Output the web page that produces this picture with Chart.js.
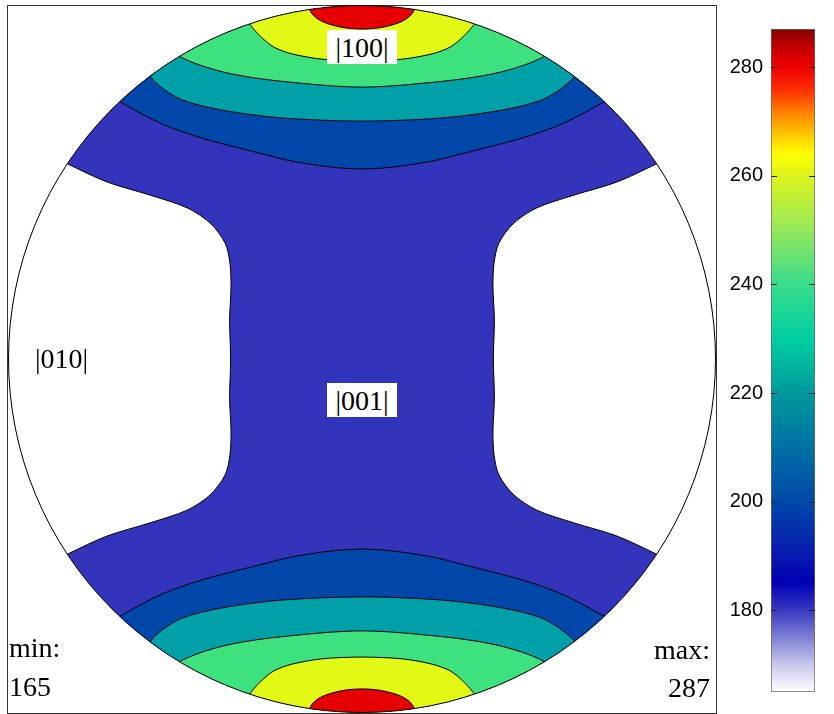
<!DOCTYPE html>
<html>
<head>
<meta charset="utf-8">
<script src="https://cdn.jsdelivr.net/npm/chart.js@4.4.1/dist/chart.umd.min.js"></script>
<style>
  html, body { margin: 0; padding: 0; background: #fff; }
  body { width: 834px; height: 714px; position: relative; overflow: hidden; }
  #frame { position: absolute; left: 7px; top: 5px; width: 708px; height: 707px; border: 1px solid #333; }
  #pole { position: absolute; left: 8px; top: 5px; }
  #bar { position: absolute; left: 720px; top: 29px; }
  .lbl { position: absolute; font-family: "Liberation Serif", "Times New Roman", serif; font-size: 28px; line-height: 31px; color: #000; white-space: nowrap; }
  .boxed { background: #fff; width: 70px; height: 34px; text-align: center; line-height: 35px; }
</style>
</head>
<body>
<div id="frame"></div>
<canvas id="pole" width="708" height="708"></canvas>
<canvas id="bar" width="96" height="663"></canvas>
<div class="lbl boxed" style="left:327px; top:30px;">|100|</div>
<div class="lbl boxed" style="left:327px; top:383px;">|001|</div>
<div class="lbl" style="left:35px; top:343px;">|010|</div>
<div class="lbl" style="left:9px; top:632px;">min:</div>
<div class="lbl" style="left:9px; top:671px;">165</div>
<div class="lbl" style="right:124px; top:634px;">max:</div>
<div class="lbl" style="right:124px; top:672px;">287</div>
<script>
// contour boundaries, right half of the upper hemisphere (unit disc coords)
const redEdge    = [[0, .932], [.045, .935], [.079, .942], [.107, .951], [.127, .962], [.141, .975], [.150, .992], [.158, 1.031]];
const yellowEdge = [[0, .842], [.113, .847], [.198, .862], [.249, .881], [.282, .907], [.311, .938], [.339, .980]];
const greenEdge  = [[0, .768], [.232, .785], [.367, .805], [.466, .833], [.537, .867], [.593, .915]];
const tealEdge   = [[0, .672], [.226, .681], [.395, .703], [.508, .732], [.579, .777], [.621, .828]];
const navyEdge   = [[0, .537], [.085, .542], [.198, .559], [.268, .576], [.452, .624], [.565, .664], [.672, .720], [.734, .760]];
// white lobe edge on the left, from the rim down to the equator
const lobeEdge   = [[-.904, .590], [-.831, .551], [-.720, .500], [-.599, .463], [-.494, .427], [-.429, .384],
                    [-.387, .328], [-.373, .271], [-.370, .203], [-.374, .110], [-.371, 0]];

const bandColors = ['#0047a9', '#00a0a8', '#3de27f', '#e2f815', '#e60000'];
const bandEdges  = [navyEdge, tealEdge, greenEdge, yellowEdge, redEdge];

// colour bar
const cbMin = 165;
const cbMax = 287;
const cbTicks = [180, 200, 220, 240, 260, 280];
const cmapValues = [165, 170, 175, 180, 185, 190, 200, 210, 220, 230, 240, 250, 260, 264, 268, 272, 276, 280, 284, 287];
const cmapColors = ['#ffffff', '#c8c8ec', '#8080d4', '#3a3ac2', '#0000b4', '#0818b0', '#0048a8', '#0070a4', '#00999c', '#00cfa0',
                    '#38dc8c', '#94e85a', '#dcf41c', '#ffff00', '#ffc000', '#ff7a00', '#ff2a00', '#ee0000', '#c00000', '#820000'];

function mirrorX(half) {
  const left = half.slice(1).reverse().map(p => [-p[0], p[1]]);
  return left.concat(half);
}
function flipY(pts) { return pts.map(p => [p[0], -p[1]]); }
function toXY(pts) { return pts.map(p => ({x: p[0], y: p[1]})); }

function shape(pts, color, border) {
  return {
    data: toXY(pts),
    showLine: true,
    fill: 'shape',
    backgroundColor: color,
    borderColor: '#000',
    borderWidth: border,
    pointRadius: 0,
    tension: 0.3
  };
}

const layers = [];
layers.push(shape([[-1.3, -1.3], [1.3, -1.3], [1.3, 1.3], [-1.3, 1.3]], '#3333bb', 0));

const lobe = lobeEdge.concat(flipY(lobeEdge.slice(0, -1)).reverse()).concat([[-1.3, -.6], [-1.3, .6]]);
layers.push(shape(lobe, '#ffffff', 1));
layers.push(shape(lobe.map(p => [-p[0], p[1]]), '#ffffff', 1));

bandEdges.forEach((edge, i) => {
  const last = edge[edge.length - 1];
  const top = mirrorX(edge).concat([[last[0] + .05, 1.3], [-last[0] - .05, 1.3]]);
  layers.push(shape(top, bandColors[i], 1));
  layers.push(shape(flipY(top), bandColors[i], 1));
});
layers.forEach((ds, i) => { ds.order = layers.length - i; });

const discClip = {
  id: 'discClip',
  beforeDatasetsDraw(chart) {
    const {ctx, scales: {x, y}} = chart;
    const cx = x.getPixelForValue(0), cy = y.getPixelForValue(0);
    const r = x.getPixelForValue(1) - cx;
    ctx.save();
    ctx.beginPath();
    ctx.arc(cx, cy, r - 0.5, 0, Math.PI * 2);
    ctx.clip();
  },
  afterDatasetsDraw(chart) {
    const {ctx, scales: {x, y}} = chart;
    ctx.restore();
    const cx = x.getPixelForValue(0), cy = y.getPixelForValue(0);
    const r = x.getPixelForValue(1) - cx;
    ctx.save();
    ctx.beginPath();
    ctx.arc(cx, cy, r - 0.5, 0, Math.PI * 2);
    ctx.strokeStyle = '#000';
    ctx.lineWidth = 1;
    ctx.stroke();
    ctx.restore();
  }
};

new Chart(document.getElementById('pole'), {
  type: 'scatter',
  data: { datasets: layers },
  options: {
    responsive: false,
    animation: false,
    events: [],
    layout: { padding: 0 },
    plugins: { legend: { display: false }, tooltip: { enabled: false } },
    scales: {
      x: { type: 'linear', min: -1, max: 1, display: false },
      y: { type: 'linear', min: -1, max: 1, display: false }
    }
  },
  plugins: [discClip]
});

function cmapGradient(chart) {
  const area = chart.chartArea;
  if (!area) return '#888';
  const y = chart.scales.y;
  const g = chart.ctx.createLinearGradient(0, y.getPixelForValue(cbMin), 0, y.getPixelForValue(cbMax));
  cmapValues.forEach((v, i) => g.addColorStop((v - cbMin) / (cbMax - cbMin), cmapColors[i]));
  return g;
}

const innerTicks = {
  id: 'innerTicks',
  afterDatasetsDraw(chart) {
    const {ctx, chartArea: a, scales: {y}} = chart;
    ctx.save();
    ctx.strokeStyle = '#222';
    ctx.lineWidth = 1;
    cbTicks.forEach(v => {
      const py = Math.round(y.getPixelForValue(v)) + 0.5;
      ctx.beginPath();
      ctx.moveTo(a.left, py); ctx.lineTo(a.left + 6, py);
      ctx.moveTo(a.right - 6, py); ctx.lineTo(a.right, py);
      ctx.stroke();
    });
    ctx.restore();
  }
};

new Chart(document.getElementById('bar'), {
  type: 'bar',
  data: {
    labels: [''],
    datasets: [{
      data: [[cbMin, cbMax]],
      backgroundColor: ctx => cmapGradient(ctx.chart),
      borderColor: '#666',
      borderWidth: 1,
      borderSkipped: false,
      barPercentage: 1,
      categoryPercentage: 1
    }]
  },
  options: {
    responsive: false,
    animation: false,
    events: [],
    layout: { padding: { top: 0, bottom: 0, left: 0, right: 1 } },
    plugins: { legend: { display: false }, tooltip: { enabled: false } },
    scales: {
      x: { display: false },
      y: {
        min: cbMin,
        max: cbMax,
        grid: { display: false, drawTicks: false },
        border: { display: false },
        ticks: { padding: 8, color: '#000', font: { family: 'Liberation Sans', size: 20 } },
        afterBuildTicks: s => { s.ticks = cbTicks.map(v => ({ value: v })); },
        afterFit: s => { s.width = 51; s.paddingTop = 0; s.paddingBottom = 0; }
      }
    }
  },
  plugins: [innerTicks]
});
</script>
</body>
</html>
